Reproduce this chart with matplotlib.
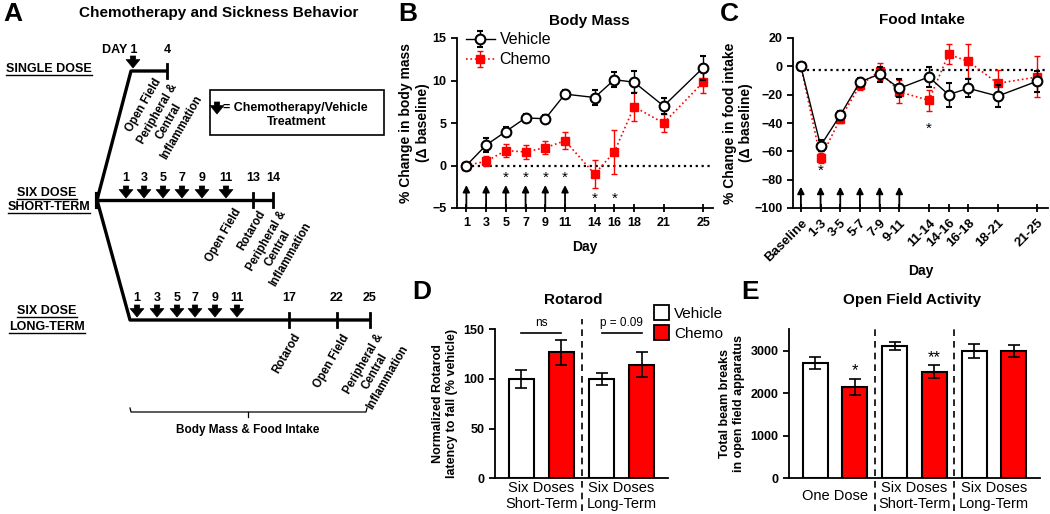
import matplotlib.pyplot as plt
from matplotlib.patches import Patch, Rectangle
from matplotlib.transforms import blended_transform_factory

plt.rcParams['font.family'] = ['Liberation Sans', 'DejaVu Sans']

W, H = 1050, 514
RED = '#ff0000'

# B: body mass (% change from baseline)
bm_days = [1, 3, 5, 7, 9, 11, 14, 16, 18, 21, 25]
bm_veh = [0, 2.4, 4.0, 5.6, 5.5, 8.4, 8.0, 10.1, 9.8, 7.0, 11.5]
bm_veh_err = [0, 0.8, 0.5, 0.5, 0.4, 0.5, 0.9, 0.85, 1.3, 0.9, 1.4]
bm_chemo = [0, 0.5, 1.75, 1.6, 2.1, 2.9, -1.0, 1.6, 6.9, 5.0, 9.8]
bm_chemo_err = [0, 0.6, 0.75, 0.8, 0.75, 1.0, 1.6, 2.6, 1.7, 1.1, 1.3]
dose_days = [1, 3, 5, 7, 9, 11]
bm_star_days = [5, 7, 9, 11, 14, 16]
bm_star_y = [-0.8, -0.8, -0.8, -0.8, -3.3, -3.3]

# C: food intake
fi_labels = ['Baseline', '1-3', '3-5', '5-7', '7-9', '9-11', '11-14',
             '14-16', '16-18', '18-21', '21-25']
fi_veh = [0, -56, -34.5, -11, -5.5, -15.5, -7.5, -20, -15.5, -21, -10.5]
fi_veh_err = [0, 4, 3, 3, 5.3, 6.4, 7, 8.5, 6.5, 7.5, 7.5]
fi_chemo = [0, -65, -37, -13.5, -3.3, -18, -24, 8.5, 3.5, -12, -7.5]
fi_chemo_err = [0, 3.5, 3, 3.5, 6, 8, 7.3, 7, 12, 9.4, 14.5]
fi_star_labels = ['1-3', '11-14']
fi_star_y = [-70, -40.5]

# D: rotarod
rot_groups = ['Six Doses\nShort-Term', 'Six Doses\nLong-Term']
rot_veh = [100, 100]
rot_veh_err = [9, 6]
rot_chemo = [127, 114.5]
rot_chemo_err = [12.5, 13]
rot_sig = ['ns', 'p = 0.09']

# E: open field
of_groups = ['One Dose', 'Six Doses\nShort-Term', 'Six Doses\nLong-Term']
of_veh = [2710, 3105, 2990]
of_veh_err = [140, 100, 175]
of_chemo = [2140, 2505, 2995]
of_chemo_err = [190, 155, 135]
of_stars = ['*', '**', '']
of_star_y = [2660, 2960, 0]


def rect(l, t, r, b):
    return [l / W, 1 - b / H, (r - l) / W, (b - t) / H]


def ftxt(x, y, s, **kw):
    fig.text(x / W, 1 - y / H, s, **kw)


def star(ax, x, y, s='*', size=11):
    # asterisk glyph sits high in its box: anchor on the baseline and drop it
    ax.annotate(s, (x, y), xytext=(0, -0.6 * size), textcoords='offset points',
                ha='center', va='baseline', fontsize=size)


def style_axes(ax):
    for s in ['top', 'right']:
        ax.spines[s].set_visible(False)
    for s in ['left', 'bottom']:
        ax.spines[s].set_linewidth(1.3)
    ax.tick_params(axis='y', direction='out', length=4, width=1.3, labelsize=9)
    for t in ax.get_yticklabels():
        t.set_fontweight('bold')


fig = plt.figure(figsize=(W / 100, H / 100), dpi=100)

# ---------------- A: schematic ----------------
axA = fig.add_axes([0, 0, 1, 1])
axA.set_xlim(0, W)
axA.set_ylim(H, 0)
axA.axis('off')


def down_arrow(x, y0, y1):
    axA.annotate('', xy=(x, y1), xytext=(x, y0),
                 arrowprops=dict(arrowstyle='simple,head_length=0.55,head_width=0.9,tail_width=0.35',
                                 fc='k', ec='k', lw=0.5, shrinkA=0, shrinkB=0,
                                 mutation_scale=11),
                 annotation_clip=False)


def rot_label(x, y, s):
    axA.text(x, y, s, rotation=60, rotation_mode='anchor', ha='right', va='top',
             multialignment='center', fontsize=8.3, fontweight='bold')


tl = dict(color='k', lw=2.4, solid_capstyle='butt')
bold9 = dict(fontsize=9, fontweight='bold', ha='center', va='center')

axA.text(219, 13, 'Chemotherapy and Sickness Behavior', fontsize=11,
         fontweight='bold', ha='center', va='center')

# single dose
axA.plot([97, 131, 167], [200, 71, 71], **tl)
axA.plot([167, 167], [64, 78], color='k', lw=2)
axA.text(137, 50, 'DAY 1', fontsize=9, fontweight='bold', ha='right', va='center')
axA.text(167, 50, '4', **bold9)
down_arrow(133, 56, 68)
rot_label(153, 76, 'Open Field')
rot_label(170, 80, 'Peripheral &\nCentral\nInflammation')

# six dose short-term
st_dose_x = [126, 144, 163, 182, 202, 226]
axA.plot([97, 273], [200, 200], **tl)
axA.plot([97, 97], [194, 207], color='k', lw=3)
for d, x in zip(dose_days, st_dose_x):
    axA.text(x, 178, str(d), **bold9)
    down_arrow(x, 186, 198)
for d, x in zip([13, 14], [253, 273]):
    axA.text(x, 178, str(d), **bold9)
    axA.plot([x, x], [193, 207], color='k', lw=2)
rot_label(233, 206, 'Open Field')
rot_label(258, 208, 'Rotarod')
rot_label(279, 207, 'Peripheral &\nCentral\nInflammation')

# six dose long-term
lt_dose_x = [137, 157, 177, 195, 215, 237]
axA.plot([97, 130, 371], [200, 320, 320], **tl)
for d, x in zip(dose_days, lt_dose_x):
    axA.text(x, 298, str(d), **bold9)
    down_arrow(x, 305, 317)
for d, x in zip([17, 22, 25], [289, 337, 370]):
    axA.text(x, 298, str(d), **bold9)
    axA.plot([x, x], [313, 327], color='k', lw=2)
rot_label(293, 331, 'Rotarod')
rot_label(341, 332, 'Open Field')
rot_label(376, 330, 'Peripheral &\nCentral\nInflammation')

# group names (underlined)
names = [(49, 69, 'SINGLE DOSE'), (47, 193, 'SIX DOSE'), (49, 207, 'SHORT-TERM'),
         (47, 311, 'SIX DOSE'), (47, 327, 'LONG-TERM')]
name_txt = [axA.text(x, y, s, **bold9) for x, y, s in names]

# legend box
axA.add_patch(Rectangle((210, 90), 174, 45, fill=False, ec='k', lw=1.2))
down_arrow(217, 102, 114)
axA.text(223, 108, '= Chemotherapy/Vehicle', fontsize=9, fontweight='bold',
         ha='left', va='center')
axA.text(297, 122, 'Treatment', **bold9)

# bracket
axA.plot([130, 131, 366, 367], [408, 412, 412, 408], color='k', lw=0.9)
axA.plot([248, 248], [412, 417], color='k', lw=0.9)
axA.text(248, 430, 'Body Mass & Food Intake', fontsize=8.5, fontweight='bold',
         ha='center', va='center')

# ---------------- B: body mass ----------------
axB = fig.add_axes(rect(457, 38, 713, 208))
axB.hlines(0, bm_days[0], 26, colors='k', linestyles=':', lw=1.6, zorder=1)
axB.errorbar(bm_days, bm_chemo, yerr=bm_chemo_err, fmt='s', ls=':', color=RED,
             ms=6, lw=1.2, elinewidth=1, capsize=2.5, label='Chemo', zorder=2)
axB.errorbar(bm_days, bm_veh, yerr=bm_veh_err, fmt='-o', color='k', mfc='white',
             mec='k', ms=7, mew=1.5, lw=1, elinewidth=1, capsize=2.5,
             label='Vehicle', zorder=3)
for d in dose_days:
    axB.annotate('', xy=(d, -2.3), xytext=(d, -5),
                 arrowprops=dict(arrowstyle='-|>', color='k', lw=1.3,
                                 mutation_scale=10, shrinkA=0, shrinkB=0))
for d, y in zip(bm_star_days, bm_star_y):
    star(axB, d, y)
axB.set_xlim(0.05, 26)
axB.set_ylim(-5, 15)
axB.set_yticks([-5, 0, 5, 10, 15])
axB.set_xticks(bm_days)
style_axes(axB)
axB.tick_params(axis='x', direction='inout', length=6, width=1.3, labelsize=9)
for t in axB.get_xticklabels():
    t.set_fontweight('bold')
axB.set_xlabel('Day', fontsize=10, fontweight='bold', labelpad=8)
axB.set_ylabel('% Change in body mass\n(Δ baseline)', fontsize=10,
               fontweight='bold', labelpad=2)
h, l = axB.get_legend_handles_labels()
axB.legend(h[::-1], l[::-1], loc='upper left', bbox_to_anchor=(0.01, 1.07),
           frameon=False, fontsize=11.5, handlelength=1.8, handletextpad=0.3,
           labelspacing=0.3, borderaxespad=0)
ftxt(589, 21, 'Body Mass', fontsize=11, fontweight='bold', ha='center', va='center')

# ---------------- C: food intake ----------------
fi_pos = [1 if s == 'Baseline' else int(s.split('-')[1]) for s in fi_labels]
axC = fig.add_axes(rect(793, 38, 1048, 208))
axC.hlines(-2.5, fi_pos[0], 26, colors='k', linestyles=':', lw=1.6, zorder=1)
axC.errorbar(fi_pos, fi_chemo, yerr=fi_chemo_err, fmt='s', ls=':', color=RED,
             ms=6, lw=1.2, elinewidth=1, capsize=2.5, zorder=2)
axC.errorbar(fi_pos, fi_veh, yerr=fi_veh_err, fmt='-o', color='k', mfc='white',
             mec='k', ms=7, mew=1.5, lw=1, elinewidth=1, capsize=2.5, zorder=3)
for p in fi_pos[:len(dose_days)]:
    axC.annotate('', xy=(p, -85), xytext=(p, -100),
                 arrowprops=dict(arrowstyle='-|>', color='k', lw=1.3,
                                 mutation_scale=10, shrinkA=0, shrinkB=0))
for s, y in zip(fi_star_labels, fi_star_y):
    star(axC, fi_pos[fi_labels.index(s)], y)
axC.set_xlim(0.2, 26.1)
axC.set_ylim(-100, 20)
axC.set_yticks(range(-100, 21, 20))
axC.set_xticks(fi_pos)
axC.set_xticklabels(fi_labels, rotation=45, ha='right', rotation_mode='anchor')
style_axes(axC)
axC.tick_params(axis='x', direction='inout', length=6, width=1.3, labelsize=9.5)
for t in axC.get_xticklabels():
    t.set_fontweight('bold')
axC.set_xlabel('Day', fontsize=10, fontweight='bold', labelpad=0)
axC.set_ylabel('% Change in food intake\n(Δ baseline)', fontsize=10,
               fontweight='bold', labelpad=1)
ftxt(922, 20, 'Food Intake', fontsize=11, fontweight='bold', ha='center', va='center')


# ---------------- D / E: bar charts ----------------
def bar_panel(ax, groups, veh, veh_err, chemo, chemo_err, top):
    n = len(groups)
    xv = [2 * i for i in range(n)]
    xc = [2 * i + 1 for i in range(n)]
    ax.bar(xv, veh, 0.63, color='white', edgecolor='k', lw=1.5, zorder=2)
    ax.bar(xc, chemo, 0.63, color=RED, edgecolor='k', lw=1.5, zorder=2)
    ax.errorbar(xv + xc, veh + chemo, yerr=veh_err + chemo_err, fmt='none',
                ecolor='k', elinewidth=1.2, capsize=4, capthick=1.2, zorder=3)
    tr = blended_transform_factory(ax.transData, ax.transAxes)
    for i in range(n - 1):
        ax.plot([2 * i + 1.5] * 2, [-0.22, top], transform=tr,
                color='k', ls=(0, (4, 3)), lw=1.2, clip_on=False)
    ax.set_xlim(-0.66, 2 * n - 0.34)
    ax.set_xticks([2 * i + 0.5 for i in range(n)])
    ax.set_xticklabels(groups, fontsize=10.5)
    ax.tick_params(axis='x', length=0, pad=13)
    for t in ax.get_xticklabels():
        t.set_va('center')
    style_axes(ax)
    return xv, xc


axD = fig.add_axes(rect(495, 329.3, 668, 478.3))
axD.set_ylim(0, 150)
axD.set_yticks([0, 50, 100, 150])
xv, xc = bar_panel(axD, rot_groups, rot_veh, rot_veh_err, rot_chemo, rot_chemo_err, 1.07)
for a, b, s in zip(xv, xc, rot_sig):
    axD.plot([a, b], [146.6, 146.6], color='k', lw=1.2, clip_on=False)
    axD.text((a + b) / 2, 150, s, fontsize=8.5, ha='center', va='bottom')
axD.set_ylabel('Normalized Rotarod\nlatency to fall (% vehicle)', fontsize=9,
               fontweight='bold', labelpad=4)
ftxt(573, 300, 'Rotarod', fontsize=11, fontweight='bold', ha='center', va='center')
fig.legend([Patch(fc='white', ec='k', lw=1.3), Patch(fc=RED, ec='k', lw=1.3)],
           ['Vehicle', 'Chemo'], loc='upper left', bbox_to_anchor=(654 / W, 1 - 305 / H),
           frameon=False, fontsize=11, handlelength=1.0, handleheight=1.1,
           handletextpad=0.3, labelspacing=0.3, borderpad=0, borderaxespad=0)

axE = fig.add_axes(rect(789, 329.3, 1040, 478.3))
axE.set_ylim(0, 3500)
axE.set_yticks([0, 1000, 2000, 3000])
xv, xc = bar_panel(axE, of_groups, of_veh, of_veh_err, of_chemo, of_chemo_err, 1.0)
for x, y, s in zip(xc, of_star_y, of_stars):
    if s:
        star(axE, x, y, s, 12)
axE.set_ylabel('Total beam breaks\nin open field apparatus', fontsize=9,
               fontweight='bold', labelpad=4)
ftxt(912, 300, 'Open Field Activity', fontsize=11, fontweight='bold',
     ha='center', va='center')

# panel letters
for x, y, s in [(13, 14, 'A'), (408, 14, 'B'), (729, 14, 'C'), (422, 292, 'D'), (750, 292, 'E')]:
    ftxt(x, y, s, fontsize=19, fontweight='bold', ha='center', va='center')

# underline the group names in A
fig.canvas.draw()
r = fig.canvas.get_renderer()
inv = axA.transData.inverted()
for t in name_txt:
    bb = t.get_window_extent(r)
    (x0, y0), (x1, y1) = inv.transform([[bb.x0, bb.y0], [bb.x1, bb.y1]])
    axA.plot([x0, x1], [y0 - 0.5, y0 - 0.5], color='k', lw=1)

fig.savefig('out.png', dpi=100)
